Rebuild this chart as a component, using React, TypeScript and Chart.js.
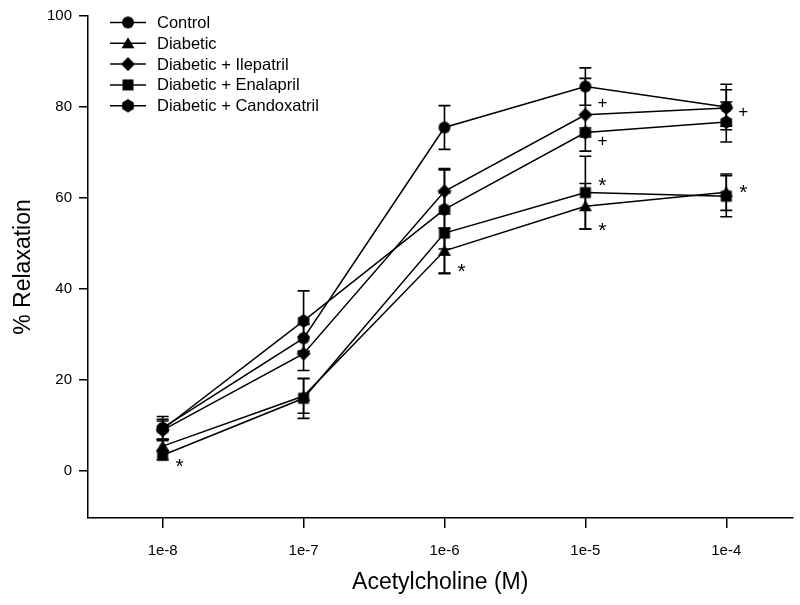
import React, { useEffect, useRef } from 'react';
import { Chart, registerables } from 'chart.js';

Chart.register(...registerables);

// ---- data ----
const doseExponents = [-8, -7, -6, -5, -4];
const xTickLabels = ['1e-8', '1e-7', '1e-6', '1e-5', '1e-4'];
const yTickValues = [0, 20, 40, 60, 80, 100];

const seriesNames = [
  'Control',
  'Diabetic',
  'Diabetic + Ilepatril',
  'Diabetic + Enalapril',
  'Diabetic + Candoxatril',
];

const controlMean = [9.5, 29.2, 75.5, 84.5, 80.0];
const controlSem = [2.5, 3.0, 4.8, 4.1, 5.0];
const diabeticMean = [5.5, 16.5, 48.4, 58.2, 61.3];
const diabeticSem = [1.2, 3.8, 5.0, 5.0, 4.0];
const ilepatrilMean = [9.0, 25.8, 61.5, 78.3, 79.8];
const ilepatrilSem = [2.0, 3.7, 5.0, 8.0, 4.0];
const enalaprilMean = [3.5, 16.0, 52.3, 61.2, 60.4];
const enalaprilSem = [1.0, 4.4, 8.8, 8.0, 4.5];
const candoxatrilMean = [9.2, 33.0, 57.5, 74.4, 76.7];
const candoxatrilSem = [2.2, 6.6, 8.7, 1.0, 4.4];

const markerShapes = ['circle', 'triangle', 'diamond', 'square', 'hexagon'];

// significance marks
const annotX = [-8, -6, -5, -5, -5, -5, -4, -4];
const annotY = [1.7, 44.6, 81.0, 72.6, 63.5, 53.6, 79.0, 62.0];
const annotText = ['*', '*', '+', '+', '*', '*', '+', '*'];

const FONT = '"Liberation Sans", Arial, sans-serif';

function makeMarker(shape: string): HTMLCanvasElement {
  const c = document.createElement('canvas');
  c.width = 16;
  c.height = 16;
  const g = c.getContext('2d')!;
  g.fillStyle = '#000';
  g.beginPath();
  const cx = 8, cy = 8;
  if (shape === 'circle') {
    g.arc(cx, cy, 6, 0, Math.PI * 2);
  } else if (shape === 'triangle') {
    g.moveTo(cx, 2);
    g.lineTo(14.5, 13);
    g.lineTo(1.5, 13);
    g.closePath();
  } else if (shape === 'diamond') {
    g.moveTo(cx, 1);
    g.lineTo(15, cy);
    g.lineTo(cx, 15);
    g.lineTo(1, cy);
    g.closePath();
  } else if (shape === 'square') {
    g.rect(2.5, 2.5, 11, 11);
  } else {
    const r = 6.7;
    for (let i = 0; i < 6; i++) {
      const a = -Math.PI / 2 + (i * Math.PI) / 3;
      const px = cx + r * Math.cos(a);
      const py = cy + r * Math.sin(a);
      if (i === 0) g.moveTo(px, py);
      else g.lineTo(px, py);
    }
    g.closePath();
  }
  g.fill();
  return c;
}

export default function App() {
  const ref = useRef<HTMLCanvasElement | null>(null);

  useEffect(() => {
    if (!ref.current) return;
    const means = [controlMean, diabeticMean, ilepatrilMean, enalaprilMean, candoxatrilMean];
    const sems = [controlSem, diabeticSem, ilepatrilSem, enalaprilSem, candoxatrilSem];
    const markers = markerShapes.map(makeMarker);

    const datasets = seriesNames.map((name, i) => ({
      label: name,
      data: doseExponents.map((x, j) => ({ x, y: means[i][j] })),
      borderColor: '#000',
      backgroundColor: '#000',
      borderWidth: 1.5,
      pointStyle: markers[i] as any,
      pointRadius: 6,
      tension: 0,
      fill: false,
    }));

    const errorBars = {
      id: 'errorBars',
      afterDatasetsDraw(chart: any) {
        const { ctx } = chart;
        const xs = chart.scales.x;
        const ys = chart.scales.y;
        ctx.save();
        ctx.strokeStyle = '#000';
        ctx.lineWidth = 1.6;
        means.forEach((m, i) => {
          m.forEach((v, j) => {
            const px = xs.getPixelForValue(doseExponents[j]);
            const top = ys.getPixelForValue(v + sems[i][j]);
            const bot = ys.getPixelForValue(v - sems[i][j]);
            ctx.beginPath();
            ctx.moveTo(px, top);
            ctx.lineTo(px, bot);
            ctx.moveTo(px - 6, top);
            ctx.lineTo(px + 6, top);
            ctx.moveTo(px - 6, bot);
            ctx.lineTo(px + 6, bot);
            ctx.stroke();
          });
        });
        ctx.restore();
      },
    };

    const annotations = {
      id: 'annots',
      afterDraw(chart: any) {
        const { ctx } = chart;
        const xs = chart.scales.x;
        const ys = chart.scales.y;
        ctx.save();
        ctx.fillStyle = '#000';
        ctx.textAlign = 'center';
        ctx.textBaseline = 'alphabetic';
        annotText.forEach((t, k) => {
          ctx.font = (t === '*' ? '21px ' : '17px ') + FONT;
          const m = ctx.measureText(t);
          const px = xs.getPixelForValue(annotX[k]) + 17;
          const py = ys.getPixelForValue(annotY[k]);
          const off = (m.actualBoundingBoxAscent - m.actualBoundingBoxDescent) / 2;
          ctx.fillText(t, px, py + off);
        });
        ctx.restore();
      },
    };

    const legendPlugin = {
      id: 'customLegend',
      afterDraw(chart: any) {
        const { ctx } = chart;
        ctx.save();
        const x0 = 110;
        const y0 = 22.5;
        const step = 20.8;
        ctx.strokeStyle = '#000';
        ctx.lineWidth = 1.5;
        ctx.fillStyle = '#000';
        ctx.font = '16.5px ' + FONT;
        ctx.textAlign = 'left';
        ctx.textBaseline = 'middle';
        seriesNames.forEach((name, i) => {
          const y = y0 + i * step;
          ctx.beginPath();
          ctx.moveTo(x0, y);
          ctx.lineTo(x0 + 36, y);
          ctx.stroke();
          ctx.drawImage(markers[i], x0 + 18 - 8, y - 8);
          ctx.fillText(name, x0 + 47, y + 1);
        });
        ctx.restore();
      },
    };

    const chart = new Chart(ref.current, {
      type: 'line',
      data: { datasets: datasets as any },
      plugins: [errorBars, annotations, legendPlugin],
      options: {
        responsive: false,
        animation: false,
        layout: { padding: { top: 14, right: 6, left: 0, bottom: 0 } },
        plugins: {
          legend: { display: false },
          tooltip: { enabled: false },
        },
        scales: {
          x: {
            type: 'linear',
            min: -8.53,
            max: -3.53,
            afterBuildTicks(scale: any) {
              scale.ticks = doseExponents.map((v) => ({ value: v }));
            },
            afterFit(scale: any) {
              scale.height = 87;
            },
            grid: {
              drawOnChartArea: false,
              color: '#000',
              tickColor: '#000',
              tickLength: 10,
              lineWidth: 1.5,
            },
            border: { display: true, color: '#000', width: 1.5 },
            ticks: {
              color: '#000',
              font: { family: FONT, size: 15 },
              padding: 14,
              maxRotation: 0,
              autoSkip: false,
              callback: (v: any) => xTickLabels[doseExponents.indexOf(Number(v))] ?? '',
            },
            title: {
              display: true,
              text: 'Acetylcholine (M)',
              color: '#000',
              font: { family: FONT, size: 23 },
              padding: { top: 0, bottom: 9 },
            },
          },
          y: {
            type: 'linear',
            min: -10.3,
            max: 100,
            afterBuildTicks(scale: any) {
              scale.ticks = yTickValues.map((v) => ({ value: v }));
            },
            afterFit(scale: any) {
              scale.width = 88;
            },
            grid: {
              drawOnChartArea: false,
              color: '#000',
              tickColor: '#000',
              tickLength: 9,
              lineWidth: 1.5,
            },
            border: { display: true, color: '#000', width: 1.5 },
            ticks: {
              color: '#000',
              font: { family: FONT, size: 15 },
              padding: 7,
              autoSkip: false,
              callback: (v: any) => String(v),
            },
            title: {
              display: true,
              text: '% Relaxation',
              color: '#000',
              font: { family: FONT, size: 23 },
              padding: { top: 10, bottom: 0 },
            },
          },
        },
      },
    });
    return () => chart.destroy();
  }, []);

  return (
    <div style={{ position: 'fixed', left: 0, top: 0, width: 800, height: 605, background: '#fff' }}>
      <canvas ref={ref} width={800} height={605} style={{ width: 800, height: 605, display: 'block' }} />
    </div>
  );
}
